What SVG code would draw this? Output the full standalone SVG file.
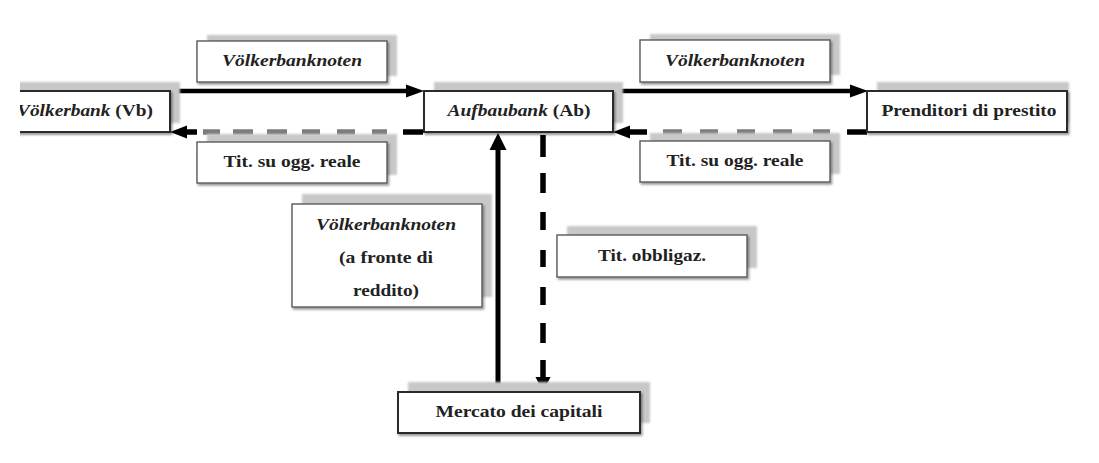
<svg xmlns="http://www.w3.org/2000/svg" width="1099" height="463" viewBox="0 0 1099 463">
  <defs>
    <filter id="drop" x="-5%" y="-10%" width="115%" height="140%">
      <feDropShadow dx="1.5" dy="2" stdDeviation="1" flood-color="#000" flood-opacity="0.4"/>
    </filter>
    <filter id="soft" x="-5%" y="-10%" width="110%" height="130%">
      <feGaussianBlur stdDeviation="0.8"/>
    </filter>
    <clipPath id="leftEdge">
      <rect x="20" y="0" width="1079" height="463"/>
    </clipPath>
  </defs>
  <style>
    .shade { fill: #c8c8c8; filter: url(#soft); }
    .main { fill: #fff; stroke: #2a2a2a; stroke-width: 2; filter: url(#drop); }
    .label { fill: #fff; stroke: #5a5a5a; stroke-width: 1.4; filter: url(#drop); }
    text { font-family: "Liberation Serif", "DejaVu Serif", serif; font-weight: bold; font-size: 17px; fill: #222; }
    .it { font-style: italic; }
    .mid { text-anchor: middle; }
    .solid { stroke: #000; stroke-width: 4.5; fill: none; }
    .dash { stroke: #000; stroke-width: 5.5; fill: none; }
    .dash.faded { stroke: #7c7c7c; }
    .head { fill: #000; }
  </style>

  <rect width="1099" height="463" fill="#fff"/>

  <!-- connectors -->
  <g id="connectors">
    <!-- Völkerbank -> Aufbaubank -->
    <path class="solid" d="M170,91 H409"/>
    <polygon class="head" points="424,91 406,84.5 406,97.5"/>
    <!-- Aufbaubank -> Völkerbank (dashed) -->
    <path class="dash" d="M423,132 H403 M197,132 H183"/>
    <path class="dash faded" d="M387,132 H372 M355,132 H337 M320,132 H302 M287,132 H267 M253,132 H233 M220,132 H203"/>
    <polygon class="head" points="170,132 187,125.5 187,138.5"/>

    <!-- Aufbaubank -> Prenditori di prestito -->
    <path class="solid" d="M613,91 H853"/>
    <polygon class="head" points="868,91 850,84.5 850,97.5"/>
    <!-- Prenditori di prestito -> Aufbaubank (dashed) -->
    <path class="dash" d="M867,132 H847 M647,132 H627"/>
    <path class="dash faded" d="M830,132 H813 M792,132 H773 M755,132 H737 M718,132 H700 M682,132 H663"/>
    <polygon class="head" points="613,132 630,125.5 630,138.5"/>

    <!-- Mercato dei capitali -> Aufbaubank -->
    <path class="solid" d="M498,392 V148" style="stroke-width:5"/>
    <polygon class="head" points="498,133 489.5,150 506.5,150"/>
    <!-- Aufbaubank -> Mercato dei capitali (dashed) -->
    <path class="dash" d="M543,135 V157 M543,173 V193 M543,212 V230 M543,250 V267 M543,287 V305 M543,323 V343 M543,360 V379"/>
    <polygon class="head" points="543,392 535.5,377 550.5,377"/>
  </g>

  <!-- main nodes -->
  <g id="node-voelkerbank" clip-path="url(#leftEdge)">
    <rect class="shade" x="10" y="82" width="170" height="41"/>
    <rect class="main" x="0" y="91" width="170" height="41"/>
    <text x="17" y="116" textLength="136" lengthAdjust="spacingAndGlyphs"><tspan class="it">Völkerbank</tspan> (Vb)</text>
  </g>

  <g id="node-aufbaubank">
    <rect class="shade" x="434" y="82" width="189" height="41"/>
    <rect class="main" x="424" y="91" width="189" height="41"/>
    <text class="mid" x="519" y="116" textLength="143" lengthAdjust="spacingAndGlyphs"><tspan class="it">Aufbaubank</tspan> (Ab)</text>
  </g>

  <g id="node-prenditori">
    <rect class="shade" x="877" y="82" width="192" height="41"/>
    <rect class="main" x="867" y="91" width="200" height="41"/>
    <text class="mid" x="969" y="116" textLength="175" lengthAdjust="spacingAndGlyphs">Prenditori di prestito</text>
  </g>

  <g id="node-mercato">
    <rect class="shade" x="408" y="382" width="242" height="41"/>
    <rect class="main" x="398" y="392" width="242" height="41"/>
    <text class="mid" x="519" y="417" textLength="167" lengthAdjust="spacingAndGlyphs">Mercato dei capitali</text>
  </g>

  <!-- flow labels -->
  <g id="label-vbn-left">
    <rect class="shade" x="207" y="35" width="190" height="41"/>
    <rect class="label" x="197" y="41" width="190" height="41"/>
    <text class="mid it" x="292" y="66" textLength="140" lengthAdjust="spacingAndGlyphs">Völkerbanknoten</text>
  </g>

  <g id="label-tit-left">
    <rect class="shade" x="207" y="134" width="190" height="41"/>
    <rect class="label" x="197" y="142" width="190" height="41"/>
    <text class="mid" x="292" y="167" textLength="137" lengthAdjust="spacingAndGlyphs">Tit. su ogg. reale</text>
  </g>

  <g id="label-vbn-right">
    <rect class="shade" x="650" y="34" width="190" height="41"/>
    <rect class="label" x="640" y="40" width="190" height="42"/>
    <text class="mid it" x="735" y="66" textLength="140" lengthAdjust="spacingAndGlyphs">Völkerbanknoten</text>
  </g>

  <g id="label-tit-right">
    <rect class="shade" x="650" y="133" width="190" height="41"/>
    <rect class="label" x="640" y="141" width="190" height="41"/>
    <text class="mid" x="735" y="166" textLength="137" lengthAdjust="spacingAndGlyphs">Tit. su ogg. reale</text>
  </g>

  <g id="label-vbn-reddito">
    <rect class="shade" x="302" y="194" width="190" height="103"/>
    <rect class="label" x="292" y="204" width="190" height="103"/>
    <text class="mid it" x="386" y="230" textLength="140" lengthAdjust="spacingAndGlyphs">Völkerbanknoten</text>
    <text class="mid" x="386" y="263" textLength="94" lengthAdjust="spacingAndGlyphs">(a fronte di</text>
    <text class="mid" x="386" y="296" textLength="66" lengthAdjust="spacingAndGlyphs">reddito)</text>
  </g>

  <g id="label-obbligaz">
    <rect class="shade" x="567" y="226" width="190" height="42"/>
    <rect class="label" x="557" y="235" width="190" height="42"/>
    <text class="mid" x="652" y="261" textLength="108" lengthAdjust="spacingAndGlyphs">Tit. obbligaz.</text>
  </g>
</svg>
